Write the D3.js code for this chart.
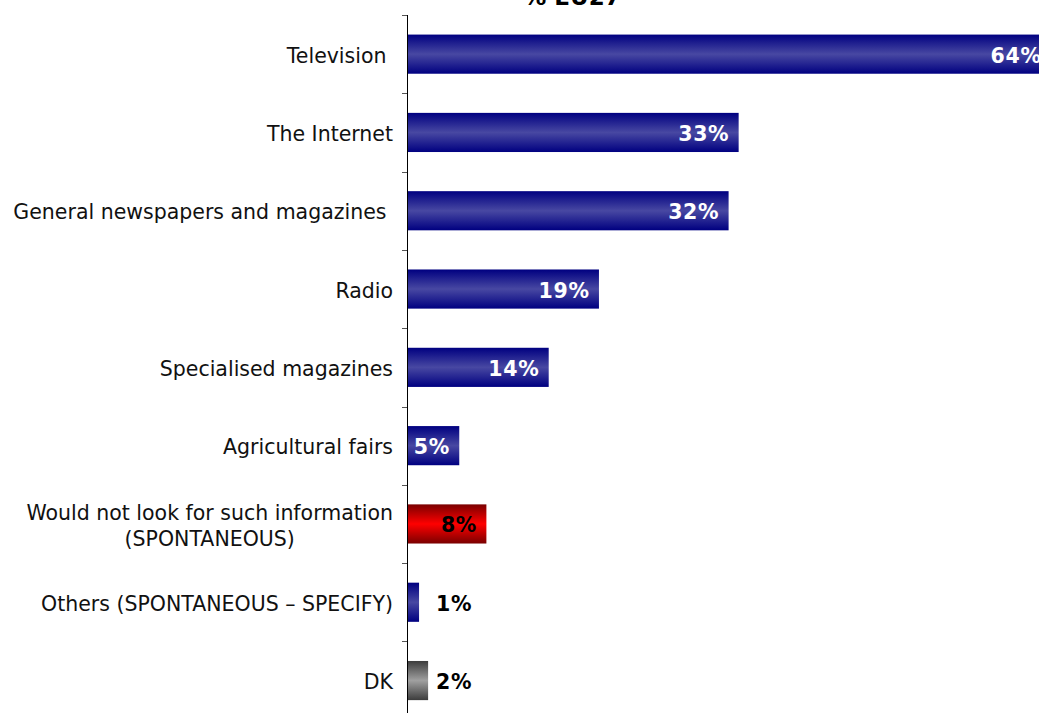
<!DOCTYPE html>
<html><head><meta charset="utf-8">
<script src="https://cdn.jsdelivr.net/npm/d3@7"></script>
<style>
html,body{margin:0;padding:0;background:#fff;overflow:hidden;}
svg{display:block;font-family:"DejaVu Sans",Verdana,sans-serif;}
</style></head>
<body>
<script>
const categories = [
  "Television ",
  "The Internet",
  "General newspapers and magazines ",
  "Radio",
  "Specialised magazines",
  "Agricultural fairs",
  "Would not look for such information\n(SPONTANEOUS)",
  "Others (SPONTANEOUS \u2013 SPECIFY)",
  "DK"
];
const values = [64.2, 33, 32, 19.1, 14.1, 5.2, 7.9, 1.2, 2.1];
const valueLabels = ["64%", "33%", "32%", "19%", "14%", "5%", "8%", "1%", "2%"];
const barKinds = ["blue","blue","blue","blue","blue","blue","red","blue","grey"];
const title = "% EU27";

const W = 1039, H = 713;
const svg = d3.select("body").append("svg").attr("width", W).attr("height", H);

const defs = svg.append("defs");
const grads = {
  blue: ["#000080", "#4848a2"],
  red: ["#7a0000", "#ff0000"],
  grey: ["#3c3c3c", "#a0a0a0"]
};
Object.entries(grads).forEach(([k, [edge, mid]]) => {
  const g = defs.append("linearGradient").attr("id", "g-" + k)
    .attr("x1", 0).attr("y1", 0).attr("x2", 0).attr("y2", 1);
  g.append("stop").attr("offset", "0%").attr("stop-color", edge);
  g.append("stop").attr("offset", "50%").attr("stop-color", mid);
  g.append("stop").attr("offset", "100%").attr("stop-color", edge);
});

const x0 = 407;
const x = d3.scaleLinear().domain([0, 70]).range([x0, x0 + 703.5]);
const bandStep = 78.3;
const band = d3.scaleBand().domain(categories).range([15, 15 + bandStep * categories.length]);
const y = d3.scaleBand().domain(categories).range([15, 15 + bandStep * categories.length]).paddingInner(0.5).paddingOuter(0.25);

// title
svg.append("text").attr("x", 572).attr("y", 5).attr("text-anchor", "middle")
  .attr("font-weight", "bold").attr("font-size", 23).attr("fill", "#000").text(title);

// bars
const data = categories.map((c, i) => ({c, v: values[i], lab: valueLabels[i], kind: barKinds[i]}));
svg.append("g").selectAll("rect").data(data).join("rect")
  .attr("x", x0).attr("y", d => y(d.c))
  .attr("width", d => x(d.v) - x0).attr("height", y.bandwidth())
  .attr("fill", d => "url(#g-" + d.kind + ")");

// axis
const ax = svg.append("g");
ax.append("line").attr("x1", x0 + 0.5).attr("x2", x0 + 0.5).attr("y1", 15).attr("y2", H)
  .attr("stroke", "#000").attr("stroke-width", 1);
const tickYs = categories.map(c => band(c)).concat([band(categories[categories.length-1]) + band.bandwidth()]);
ax.selectAll("line.t").data(tickYs).join("line").attr("class", "t")
  .attr("x1", x0 - 5).attr("x2", x0).attr("y1", d => Math.round(d) + 0.5).attr("y2", d => Math.round(d) + 0.5)
  .attr("stroke", "#555").attr("stroke-width", 1);

// category labels
const labG = svg.append("g");
data.forEach(d => {
  const lines = d.c.split("\n");
  const cy = y(d.c) + y.bandwidth() / 2;
  const fs = 20.5;
  const lh = 26;
  const t = labG.append("text").attr("font-size", fs).attr("fill", "#111");
  const spans = lines.map((ln, i) => t.append("tspan").style("white-space", "pre").text(ln));
  const widths = spans.map(s => s.node().getComputedTextLength());
  const maxW = d3.max(widths);
  const cx = 393 - maxW / 2;
  const y0 = cy - (lines.length - 1) * lh / 2 + 8.6;
  spans.forEach((s, i) => s.attr("x", cx).attr("y", y0 + i * lh).attr("text-anchor", "middle"));
});

// value labels
svg.append("g").selectAll("text").data(data).join("text")
  .attr("font-weight", "bold").attr("font-size", 20.5)
  .style("letter-spacing", "0.7px")
  .attr("y", d => y(d.c) + y.bandwidth() / 2 + 8.5)
  .attr("x", d => (x(d.v) - x0 > 45) ? Math.min(x(d.v), W + 12) - 9.3 : 436)
  .attr("text-anchor", d => (x(d.v) - x0 > 45) ? "end" : "start")
  .attr("fill", d => (x(d.v) - x0 > 45 && d.kind === "blue") ? "#fff" : "#000")
  .text(d => d.lab);
</script>
</body></html>
